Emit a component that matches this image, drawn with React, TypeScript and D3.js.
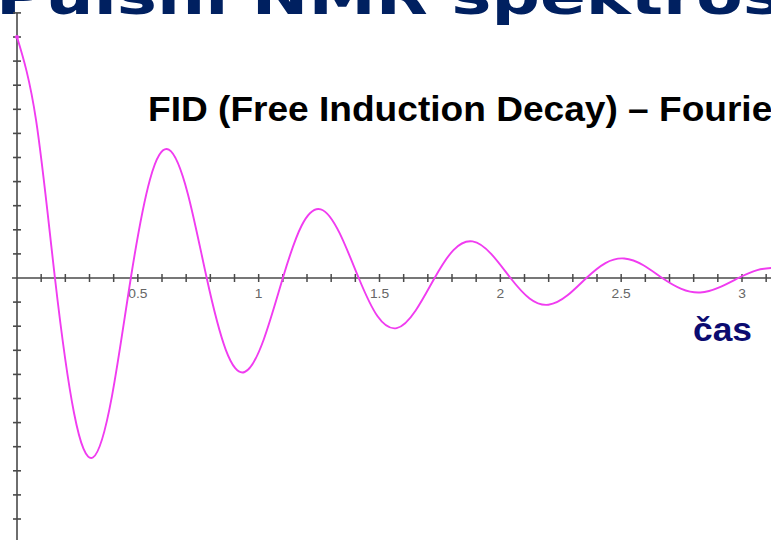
import React from 'react';
import * as d3 from 'd3';

// FID signal (time in s, relative amplitude)
const times = [0, 0.079, 0.157, 0.236, 0.314, 0.393, 0.471, 0.55, 0.628, 0.707, 0.785, 0.864, 0.942, 1.021, 1.1, 1.178, 1.257, 1.335, 1.414, 1.492, 1.571, 1.649, 1.728, 1.806, 1.885, 1.963, 2.042, 2.121, 2.199, 2.278, 2.356, 2.435, 2.513, 2.592, 2.67, 2.749, 2.827, 2.906, 2.985, 3.063, 3.142];
const signal = [1.0, 0.654, 0, -0.56, -0.745, -0.49, 0, 0.408, 0.533, 0.349, 0, -0.298, -0.39, -0.255, 0, 0.218, 0.285, 0.186, 0, -0.159, -0.208, -0.136, 0, 0.116, 0.152, 0.099, 0, -0.085, -0.111, -0.072, 0, 0.062, 0.081, 0.053, 0, -0.045, -0.06, -0.039, 0, 0.033, 0.043];

const xTickLabels = ['0.5', '1', '1.5', '2', '2.5', '3'];
const xLabelValues = [0.5, 1, 1.5, 2, 2.5, 3];

const title = 'Pulsní NMR spektroskopie';
const subtitle = 'FID (Free Induction Decay) – Fourierova transformace';
const axisLabel = 'čas';

const W = 771;
const H = 540;

const App = () => {
  const x = d3.scaleLinear().domain([0, 3]).range([17, 742]);
  const y = d3.scaleLinear().domain([-1, 1]).range([278 + 241, 278 - 241]);

  const points: [number, number][] = times.map((t, i) => [t, signal[i]]);
  const line = d3.line<[number, number]>()
    .x(d => x(d[0]))
    .y(d => y(d[1]))
    .curve(d3.curveNatural);

  const xTicks = d3.range(1, 32).map(i => i / 10);
  const yTicks = d3.range(-11, 12).map(i => i / 10).filter(v => v !== 0);

  const axisColor = '#4a4a4a';

  return (
    <svg width={W} height={H} style={{ position: 'absolute', left: 0, top: 0, background: '#fff' }}>
      {/* slide title, only its lower part is visible */}
      <g transform="translate(-4,14) scale(1.3,1)">
        <text fontFamily="DejaVu Sans" fontWeight="bold" fontSize={52} fill="#002060">{title}</text>
      </g>

      {/* axes */}
      <line x1={12} x2={W} y1={y(0)} y2={y(0)} stroke={axisColor} strokeWidth={1.6} />
      <line x1={x(0)} x2={x(0)} y1={y(1.1)} y2={H} stroke={axisColor} strokeWidth={1.6} />
      {xTicks.map(v => (
        <line key={'xt' + v} x1={x(v)} x2={x(v)} y1={y(0) - 4} y2={y(0) + 4} stroke={axisColor} strokeWidth={1.5} />
      ))}
      {yTicks.map(v => (
        <line key={'yt' + v} x1={x(0) - 4} x2={x(0) + 4} y1={y(v)} y2={y(v)} stroke={axisColor} strokeWidth={1.6} />
      ))}
      {xLabelValues.map((v, i) => (
        <g key={'xl' + v} transform={`translate(${x(v)},${y(0) + 20}) scale(1.15,1)`}>
          <text textAnchor="middle" fontFamily="Liberation Sans" fontSize={12} fill="#666">{xTickLabels[i]}</text>
        </g>
      ))}

      {/* FID curve */}
      <path d={line(points) || ''} fill="none" stroke="#f03cf0" strokeWidth={1.9} />
      <circle cx={x(0)} cy={y(1)} r={2} fill="#f03cf0" />

      {/* subtitle */}
      <g transform="translate(148,121) scale(1.06,1)">
        <text fontFamily="Liberation Sans" fontWeight="bold" fontSize={35} fill="#000">{subtitle}</text>
      </g>

      {/* axis label */}
      <text x={693} y={341} fontFamily="Liberation Sans" fontWeight="bold" fontSize={33} fill="#0b0b70"
        textLength={59} lengthAdjust="spacingAndGlyphs">{axisLabel}</text>
    </svg>
  );
};

export default App;
